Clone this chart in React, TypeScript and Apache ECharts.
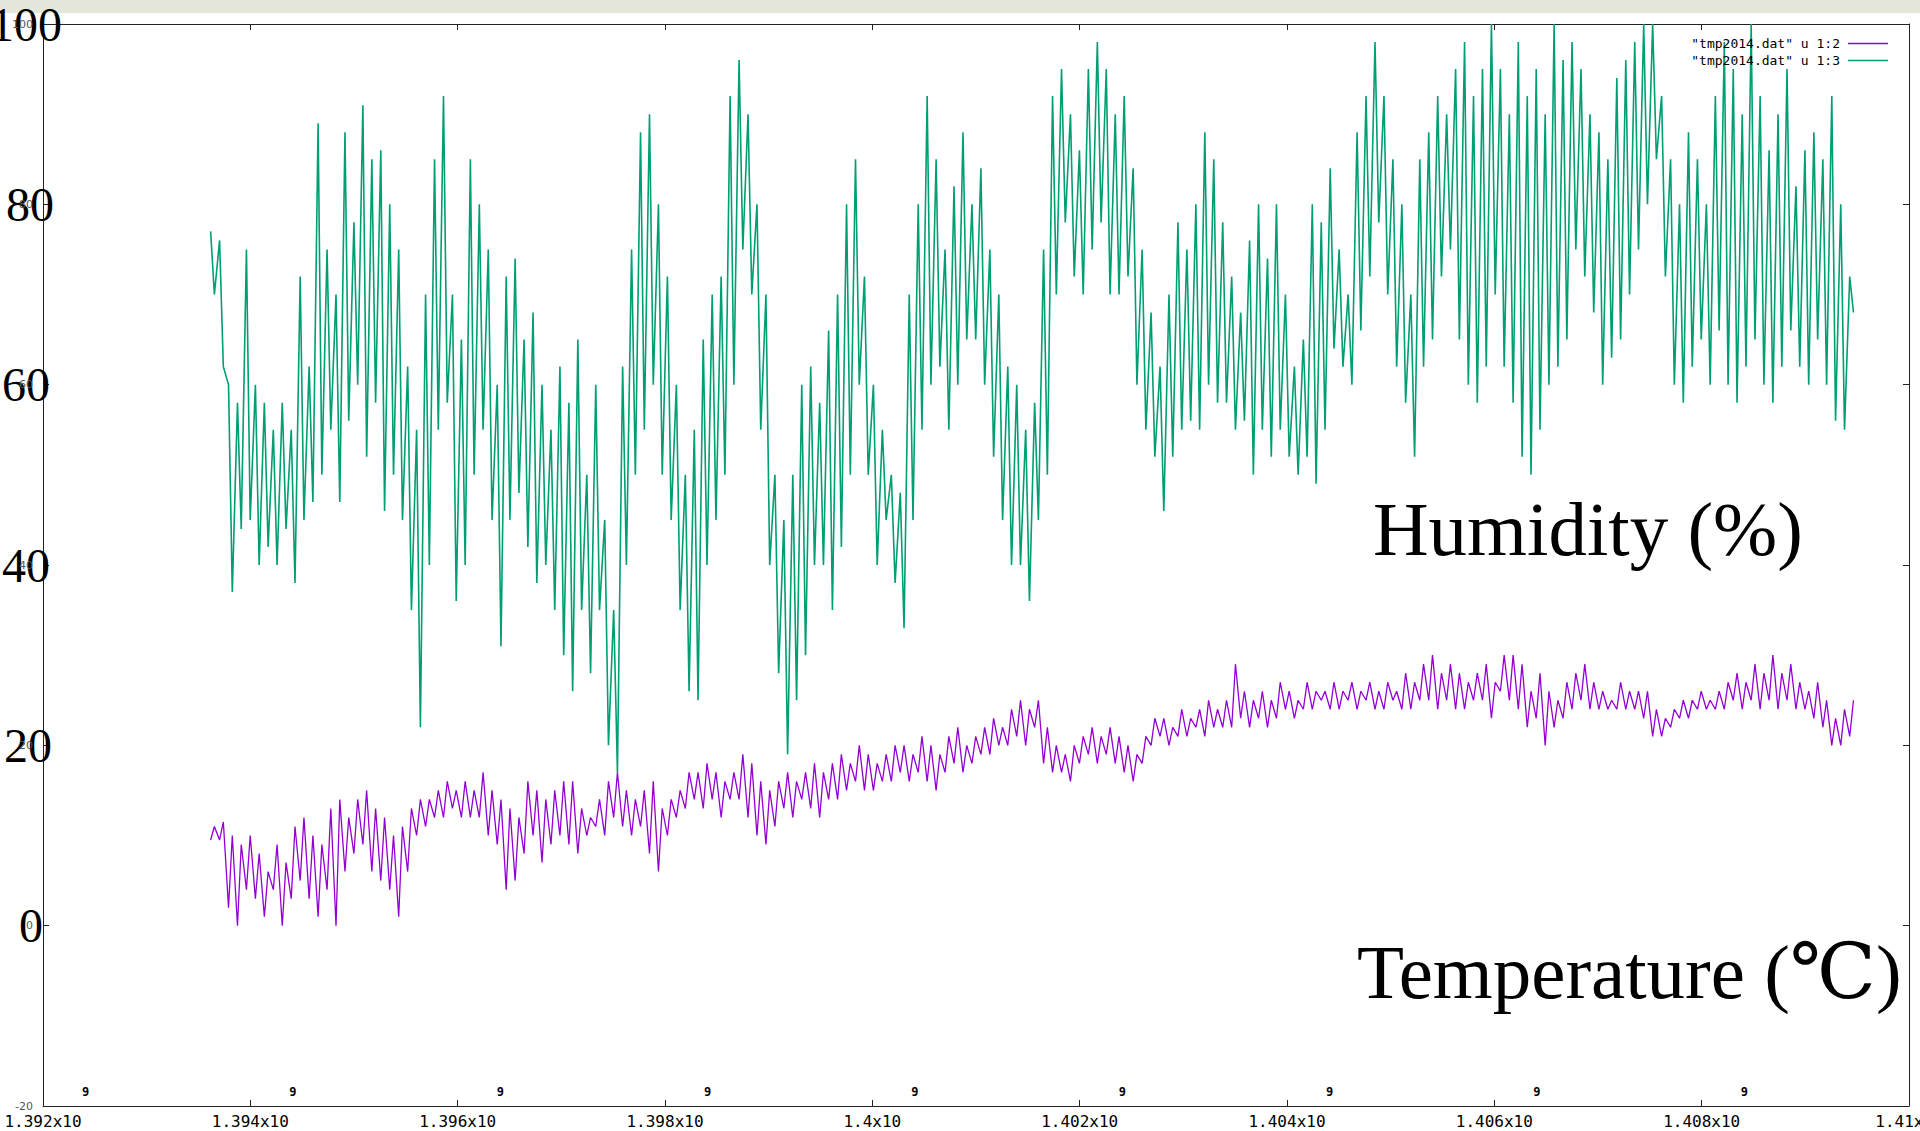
import React, { useEffect, useRef } from 'react';
import * as echarts from 'echarts';

// ---- data ----
const startTime = 1393599600; // first day of the record (unix seconds)
const daySeconds = 86400;

const xMin = 1392000000;
const xMax = 1410000000;
const xStep = 2000000;
const yMin = -20;
const yMax = 100;
const yStep = 20;

const temperatureName = '"tmp2014.dat" u 1:2';
const humidityName = '"tmp2014.dat" u 1:3';

// daily maxima / minima of relative humidity (%)
const humidityHigh = [
  77, 76, 60, 58, 75, 60, 58, 55, 58, 55,
  72, 62, 89, 75, 70, 88, 78, 91, 85, 86,
  80, 75, 62, 55, 70, 85, 92, 70, 65, 85,
  80, 75, 60, 72, 74, 65, 68, 60, 55, 62,
  58, 65, 50, 60, 45, 35, 62, 75, 88, 90,
  80, 72, 60, 50, 55, 65, 70, 72, 92, 96,
  90, 80, 70, 50, 45, 50, 60, 62, 58, 66,
  70, 80, 85, 72, 60, 55, 50, 48, 70, 80,
  92, 85, 75, 82, 88, 80, 84, 75, 70, 62,
  60, 55, 58, 75, 92, 95, 90, 86, 95, 98,
  95, 90, 92, 84, 75, 68, 62, 70, 78, 75,
  80, 88, 85, 78, 72, 68, 76, 80, 74, 80,
  70, 62, 65, 80, 78, 84, 75, 70, 88, 92,
  98, 92, 85, 80, 70, 85, 88, 92, 90, 95,
  98, 92, 95, 100, 95, 90, 98, 92, 95, 90,
  100, 96, 98, 95, 90, 88, 85, 94, 96, 98,
  100, 100, 92, 85, 80, 88, 85, 80, 92, 98,
  95, 90, 100, 92, 86, 90, 95, 82, 86, 88,
  85, 92, 80, 72,
];
const humidityLow = [
  70, 62, 37, 44, 45, 40, 42, 40, 44, 38,
  45, 47, 50, 55, 47, 56, 60, 52, 58, 46,
  50, 45, 35, 22, 40, 55, 58, 36, 40, 50,
  55, 45, 31, 45, 48, 42, 38, 40, 35, 30,
  26, 35, 28, 35, 20, 17, 40, 50, 55, 60,
  50, 45, 35, 26, 25, 40, 45, 50, 60, 75,
  70, 55, 40, 28, 19, 25, 30, 40, 40, 35,
  42, 50, 60, 50, 40, 45, 38, 33, 45, 55,
  60, 62, 55, 60, 65, 65, 60, 52, 45, 40,
  40, 36, 45, 50, 70, 78, 72, 70, 75, 78,
  70, 70, 72, 60, 55, 52, 46, 52, 55, 56,
  55, 60, 58, 58, 55, 56, 50, 55, 52, 55,
  52, 50, 52, 49, 55, 64, 62, 60, 66, 72,
  78, 70, 62, 58, 52, 62, 65, 72, 75, 65,
  60, 58, 62, 70, 62, 58, 52, 50, 55, 60,
  62, 65, 75, 72, 68, 60, 63, 65, 70, 75,
  80, 85, 72, 60, 58, 62, 65, 60, 66, 60,
  58, 62, 65, 60, 58, 62, 66, 62, 60, 65,
  60, 56, 55, 68,
];

// daily maxima / minima of temperature (deg C)
const temperatureHigh = [
  11, 11.5, 10, 9, 10, 8, 6, 9, 7, 11,
  12, 10, 9, 13, 14, 12, 14, 15, 13, 12,
  10, 11, 13, 14, 14, 15, 16, 15, 16, 15,
  17, 15, 14, 13, 12, 16, 15, 14, 15, 16,
  16, 13, 12, 14, 16, 17, 15, 14, 15, 16,
  13, 14, 15, 17, 17, 18, 17, 16, 17, 19,
  18, 16, 15, 16, 17, 16, 17, 18, 17, 18,
  19, 18, 20, 19, 18, 19, 20, 20, 19, 21,
  20, 19, 21, 22, 20, 21, 22, 23, 22, 24,
  25, 24, 25, 22, 20, 19, 20, 21, 22, 21,
  22, 21, 20, 19, 21, 23, 23, 22, 24, 23,
  24, 25, 24, 25, 29, 26, 25, 26, 25, 27,
  26, 25, 27, 26, 26, 27, 26, 27, 26, 27,
  26, 27, 26, 28, 27, 29, 30, 28, 29, 28,
  27, 28, 29, 27, 30, 30, 29, 26, 28, 26,
  25, 27, 28, 29, 27, 26, 25, 27, 26, 26,
  26, 24, 23, 24, 25, 25, 26, 25, 26, 27,
  28, 27, 29, 28, 30, 28, 29, 27, 26, 27,
  25, 23, 24, 25,
];
const temperatureLow = [
  9.5, 9.5, 2, 0, 4, 3, 1, 4, 0, 3,
  5, 3, 1, 4, 0, 6, 8, 9, 6, 5,
  4, 1, 6, 10, 11, 12, 12, 13, 12, 12,
  12, 10, 9, 4, 5, 8, 10, 7, 9, 10,
  9, 8, 10, 11, 10, 12, 11, 10, 11, 8,
  6, 10, 12, 13, 14, 13, 14, 12, 14, 14,
  12, 10, 9, 11, 13, 12, 14, 13, 12, 14,
  14, 15, 16, 15, 15, 16, 16, 17, 16, 17,
  16, 15, 17, 18, 17, 18, 19, 19, 20, 20,
  21, 20, 22, 18, 17, 17, 16, 18, 19, 18,
  19, 18, 17, 16, 18, 20, 21, 20, 21, 21,
  22, 21, 22, 22, 22, 23, 22, 23, 22, 23,
  24, 23, 24, 24, 25, 24, 24, 25, 24, 25,
  24, 24, 25, 24, 24, 25, 25, 24, 25, 24,
  24, 25, 25, 23, 26, 25, 24, 22, 23, 20,
  22, 23, 24, 25, 24, 24, 24, 24, 24, 24,
  23, 21, 21, 22, 23, 23, 24, 24, 24, 24,
  25, 24, 25, 24, 25, 24, 25, 24, 24, 23,
  22, 20, 20, 21,
];

// ---- styles ----
const bigLabelPad: Record<string, number> = { '100': 0, '80': 8, '60': 12, '40': 12, '20': 10, '0': 19 };

function buildDaily(first: number[], second: number[], firstFrac: number, secondFrac: number) {
  const out: number[][] = [];
  first.forEach((v, d) => {
    const t = startTime + d * daySeconds;
    out.push([t + firstFrac * daySeconds, v]);
    out.push([t + secondFrac * daySeconds, second[d]]);
  });
  return out;
}

export default function App() {
  const ref = useRef<HTMLDivElement>(null);

  useEffect(() => {
    document.body.style.margin = '0';
    const chart = echarts.init(ref.current as HTMLDivElement, null, { renderer: 'svg' });

    const humidityData = buildDaily(humidityHigh, humidityLow, 0.2, 0.62);
    const temperatureData = buildDaily(temperatureLow, temperatureHigh, 0.2, 0.62);

    const border = { show: true, onZero: false, lineStyle: { color: '#222', width: 1 } };
    const innerTick = { show: true, inside: true, length: 6, lineStyle: { color: '#222', width: 1 } };

    const rich: Record<string, any> = {};
    Object.keys(bigLabelPad).forEach((k) => {
      rich['n' + k] = {
        fontFamily: '"Liberation Serif", "Times New Roman", serif',
        fontSize: 48,
        color: '#000',
        padding: [0, bigLabelPad[k], 0, 0],
      };
    });

    const option: any = {
      animation: false,
      backgroundColor: '#ffffff',
      grid: { left: 43, right: 11, top: 24, bottom: 25, containLabel: false, outerBoundsMode: 'none' },
      legend: {
        orient: 'vertical',
        right: 27,
        top: 32,
        align: 'right',
        icon: 'rect',
        itemWidth: 40,
        itemHeight: 1.5,
        itemGap: 4,
        selectedMode: false,
        data: [temperatureName, humidityName],
        textStyle: { fontFamily: '"DejaVu Sans Mono", monospace', fontSize: 13, color: '#000', padding: [0, 3, 0, 0] },
      },
      xAxis: [
        {
          type: 'value',
          position: 'bottom',
          min: xMin,
          max: xMax,
          interval: xStep,
          axisLine: border,
          axisTick: innerTick,
          splitLine: { show: false },
          axisLabel: {
            showMinLabel: true,
            showMaxLabel: true,
            margin: 7,
            color: '#000',
            fontFamily: '"DejaVu Sans Mono", monospace',
            fontSize: 16,
            formatter: (v: number) => String(Number((v / 1e9).toFixed(3))) + 'x10',
          },
        },
        {
          type: 'value',
          position: 'top',
          min: xMin,
          max: xMax,
          interval: xStep,
          axisLine: border,
          axisTick: innerTick,
          splitLine: { show: false },
          axisLabel: { show: false },
        },
        {
          type: 'value',
          position: 'bottom',
          min: xMin,
          max: xMax,
          interval: xStep,
          axisLine: { show: false, onZero: false },
          axisTick: { show: false },
          splitLine: { show: false },
          axisLabel: {
            showMinLabel: true,
            showMaxLabel: false,
            align: 'left',
            padding: [0, 0, 0, 39],
            margin: -20,
            color: '#000',
            fontFamily: '"DejaVu Sans Mono", monospace',
            fontWeight: 'bold',
            fontSize: 12,
            formatter: () => '9',
          },
        },
      ],
      yAxis: [
        {
          type: 'value',
          position: 'left',
          min: yMin,
          max: yMax,
          interval: yStep,
          axisLine: border,
          axisTick: innerTick,
          splitLine: { show: false },
          axisLabel: {
            margin: -19,
            formatter: (v: number) => (v === yMin ? '' : `{n${v}|${v}}`),
            rich,
          },
          z: 5,
        },
        {
          type: 'value',
          position: 'left',
          min: yMin,
          max: yMax,
          interval: yStep,
          axisLine: { show: false, onZero: false },
          axisTick: { show: false },
          splitLine: { show: false },
          axisLabel: { margin: 10, color: '#555', fontFamily: '"DejaVu Sans", sans-serif', fontSize: 11 },
          z: 6,
        },
        {
          type: 'value',
          position: 'right',
          min: yMin,
          max: yMax,
          interval: yStep,
          axisLine: border,
          axisTick: innerTick,
          splitLine: { show: false },
          axisLabel: { show: false },
        },
      ],
      series: [
        {
          name: temperatureName,
          type: 'line',
          xAxisIndex: 0,
          yAxisIndex: 0,
          data: temperatureData,
          symbol: 'none',
          lineStyle: { color: '#9400d3', width: 1.3 },
          itemStyle: { color: '#9400d3' },
        },
        {
          name: humidityName,
          type: 'line',
          xAxisIndex: 0,
          yAxisIndex: 0,
          data: humidityData,
          symbol: 'none',
          lineStyle: { color: '#009e73', width: 1.6 },
          itemStyle: { color: '#009e73' },
        },
      ],
      graphic: [
        {
          type: 'rect',
          z: -10,
          silent: true,
          shape: { x: 0, y: 0, width: 1920, height: 13 },
          style: { fill: '#e5e6da' },
        },
        {
          type: 'text',
          z: 100,
          x: 1373,
          y: 529,
          style: {
            text: 'Humidity (%)',
            font: '77px "Liberation Serif", "DejaVu Serif", serif',
            fill: '#000',
            textAlign: 'left',
            textVerticalAlign: 'middle',
          },
        },
        {
          type: 'text',
          z: 100,
          x: 1357,
          y: 972,
          style: {
            text: 'Temperature (℃)',
            font: '77px "Liberation Serif", "DejaVu Serif", serif',
            fill: '#000',
            textAlign: 'left',
            textVerticalAlign: 'middle',
          },
        },
      ],
    };

    chart.setOption(option);
    return () => chart.dispose();
  }, []);

  return (
    <div
      ref={ref}
      style={{ position: 'fixed', left: 0, top: 0, width: 1920, height: 1131, background: '#fff' }}
    />
  );
}
